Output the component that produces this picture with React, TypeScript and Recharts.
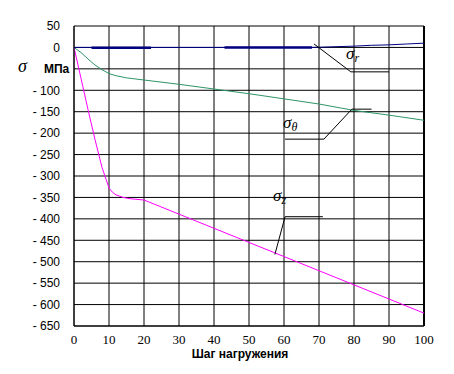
import {
  CartesianGrid,
  Line,
  LineChart,
  ReferenceLine,
  XAxis,
  YAxis,
} from "recharts";

// load step values
const xTicks = [0, 10, 20, 30, 40, 50, 60, 70, 80, 90, 100];
const yTicks = [50, 0, -50, -100, -150, -200, -250, -300, -350, -400, -450, -500, -550, -600, -650];

// sigma_r
const rSteps = [0, 20, 40, 68, 72, 76, 80, 85, 90, 95, 100];
const rValues = [0, 0, 0, 0, 1, 2, 3, 5, 6, 8, 10];
const rThickA = [5, 22];
const rThickAValues = [-1, -1];
const rThickB = [43, 68];
const rThickBValues = [0, 0];

// sigma_theta
const tSteps = [0, 2, 4, 6, 8, 10, 12, 15, 20, 30, 40, 50, 60, 70, 80, 90, 100];
const tValues = [0, -12, -27, -41, -52, -61, -66, -71, -76, -86, -97, -108, -120, -132, -147, -158, -170];

// sigma_z
const zSteps = [0, 2, 4, 6, 8, 10, 11, 12, 14, 16, 20, 40, 60, 80, 100];
const zValues = [0, -72, -145, -215, -280, -328, -338, -344, -350, -353, -356, -422, -488, -554, -620];

const toRows = (xs: number[], ys: number[]) => xs.map((x, i) => ({ x, y: ys[i] }));

const serif = "'Liberation Serif', 'Times New Roman', serif";
const sans = "'Liberation Sans', Arial, sans-serif";

const yFmt = (v: number) => {
  if (v === -50) return "";
  if (v < 0) return "- " + Math.abs(v);
  return String(v);
};

export default function App() {
  return (
    <div style={{ position: "absolute", left: 0, top: 0, width: 454, height: 374, background: "#fff" }}>
      <LineChart
        width={454}
        height={374}
        margin={{ top: 26, right: 30, bottom: 0, left: 0 }}
      >
        <CartesianGrid stroke="#000" strokeWidth={1} vertical horizontal />
        <XAxis
          type="number"
          dataKey="x"
          domain={[0, 100]}
          ticks={xTicks}
          interval={0}
          height={48}
          axisLine={{ stroke: "#000" }}
          tickLine={false}
          tick={{ fill: "#000", fontSize: 13, fontFamily: serif }}
          tickMargin={3}
        />
        <YAxis
          type="number"
          domain={[-650, 50]}
          ticks={yTicks}
          interval={0}
          width={74}
          axisLine={{ stroke: "#000" }}
          tickLine={false}
          tickFormatter={yFmt}
          tick={{ fill: "#000", fontSize: 12, fontFamily: sans }}
          tickMargin={8}
        />
        <ReferenceLine x={100} stroke="#000" strokeWidth={2} />
        <Line data={toRows(zSteps, zValues)} dataKey="y" stroke="#ff00ff" strokeWidth={1} dot={false} isAnimationActive={false} type="linear" />
        <Line data={toRows(tSteps, tValues)} dataKey="y" stroke="#2e9468" strokeWidth={1} dot={false} isAnimationActive={false} type="linear" />
        <Line data={toRows(rSteps, rValues)} dataKey="y" stroke="#000080" strokeWidth={1} dot={false} isAnimationActive={false} type="linear" />
        <Line data={toRows(rThickA, rThickAValues)} dataKey="y" stroke="#000080" strokeWidth={2.5} dot={false} isAnimationActive={false} type="linear" />
        <Line data={toRows(rThickB, rThickBValues)} dataKey="y" stroke="#000080" strokeWidth={2.5} dot={false} isAnimationActive={false} type="linear" />
        {/* leader lines */}
        <ReferenceLine segment={[{ x: 68.6, y: 8 }, { x: 79.1, y: -57 }]} stroke="#000" />
        <ReferenceLine segment={[{ x: 79.1, y: -57 }, { x: 90, y: -57 }]} stroke="#000" />
        <ReferenceLine segment={[{ x: 60.3, y: -214 }, { x: 71.4, y: -214 }]} stroke="#000" />
        <ReferenceLine segment={[{ x: 71.4, y: -214 }, { x: 79.4, y: -144 }]} stroke="#000" />
        <ReferenceLine segment={[{ x: 79.4, y: -144 }, { x: 85, y: -144 }]} stroke="#000" />
        <ReferenceLine segment={[{ x: 60.3, y: -395 }, { x: 71.1, y: -395 }]} stroke="#000" />
        <ReferenceLine segment={[{ x: 60.3, y: -395 }, { x: 57.4, y: -483 }]} stroke="#000" />
      </LineChart>
      <div style={{ position: "absolute", left: 18, top: 56, fontFamily: serif, fontStyle: "italic", fontSize: 18 }}>σ</div>
      <div style={{ position: "absolute", left: 44, top: 62, fontFamily: sans, fontWeight: "bold", fontSize: 12 }}>МПа</div>
      <div style={{ position: "absolute", left: 0, width: 480, top: 347, textAlign: "center", fontFamily: sans, fontWeight: "bold", fontSize: 12, lineHeight: "14px" }}>Шаг нагружения</div>
      <div style={{ position: "absolute", left: 346, top: 44, fontFamily: serif, fontStyle: "italic", fontSize: 17 }}>
        σ<span style={{ fontSize: 12, verticalAlign: "-3px" }}>r</span>
      </div>
      <div style={{ position: "absolute", left: 283, top: 113, fontFamily: serif, fontStyle: "italic", fontSize: 17 }}>
        σ<span style={{ fontSize: 12, verticalAlign: "-3px" }}>θ</span>
      </div>
      <div style={{ position: "absolute", left: 273, top: 186, fontFamily: serif, fontStyle: "italic", fontSize: 17 }}>
        σ<span style={{ fontSize: 12, verticalAlign: "-3px" }}>z</span>
      </div>
    </div>
  );
}
